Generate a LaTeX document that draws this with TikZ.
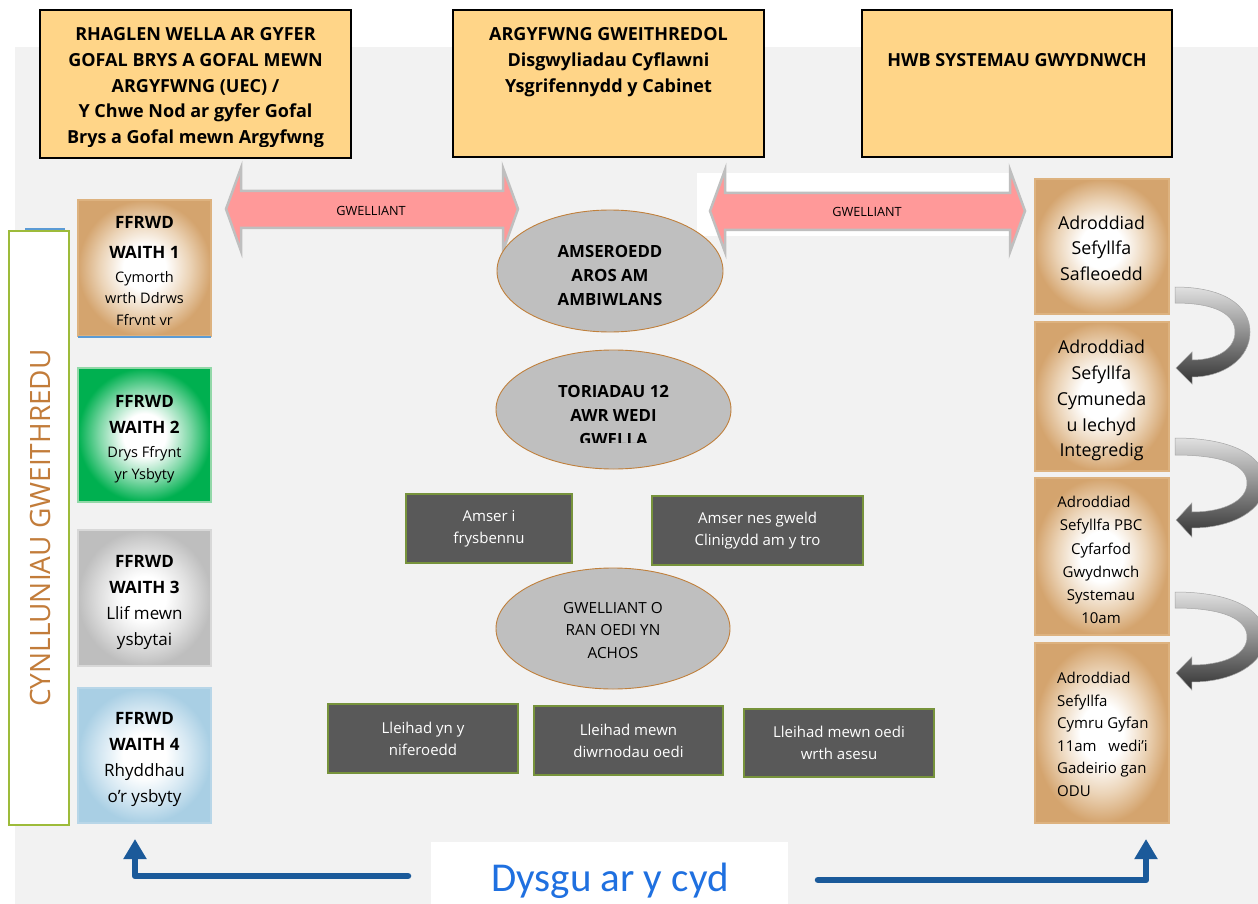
\documentclass[tikz,border=0pt]{standalone}
\usepackage{fontspec}
\setmainfont{Open Sans}
\newfontfamily\condfont{Carlito}
\usetikzlibrary{arrows.meta,shapes.geometric}
\definecolor{bgc}{HTML}{F2F2F2}
\definecolor{topfill}{HTML}{FFD588}
\definecolor{darkfill}{HTML}{595959}
\definecolor{olive}{HTML}{77933C}
\definecolor{ellfill}{HTML}{BFBFBF}
\definecolor{ellline}{HTML}{C0803C}
\definecolor{vtext}{HTML}{C27C3A}
\definecolor{vline}{HTML}{9DBB3A}
\definecolor{tanout}{HTML}{D4A46E}
\definecolor{tanmid}{HTML}{EBD3B6}
\definecolor{tanline}{HTML}{DDB27F}
\definecolor{grnout}{HTML}{00B050}
\definecolor{grnmid}{HTML}{80D8A8}
\definecolor{grnline}{HTML}{92D8A8}
\definecolor{greyout}{HTML}{BEBEBE}
\definecolor{greymid}{HTML}{DFDFDF}
\definecolor{greyline}{HTML}{D8D8D8}
\definecolor{bluout}{HTML}{A9CFE4}
\definecolor{blumid}{HTML}{D4E7F2}
\definecolor{bluline}{HTML}{B8D6E8}
\definecolor{arrblue}{HTML}{1B5A9A}
\definecolor{dysgu}{HTML}{1F70E0}
\definecolor{pinkarr}{HTML}{FF9999}
\definecolor{thinblue}{HTML}{5B9BD5}
\pgfdeclareradialshading{tanshade}{\pgfpoint{0bp}{0bp}}{color(0bp)=(white); color(8bp)=(white); color(17bp)=(tanmid); color(25bp)=(tanout); color(50bp)=(tanout)}
\pgfdeclareradialshading{grnshade}{\pgfpoint{0bp}{0bp}}{color(0bp)=(white); color(8bp)=(white); color(17bp)=(grnmid); color(25bp)=(grnout); color(50bp)=(grnout)}
\pgfdeclareradialshading{greyshade}{\pgfpoint{0bp}{0bp}}{color(0bp)=(white); color(8bp)=(white); color(17bp)=(greymid); color(25bp)=(greyout); color(50bp)=(greyout)}
\pgfdeclareradialshading{blushade}{\pgfpoint{0bp}{0bp}}{color(0bp)=(white); color(8bp)=(white); color(17bp)=(blumid); color(25bp)=(bluout); color(50bp)=(bluout)}
\begin{document}
\begin{tikzpicture}[x=1pt,y=-1pt,
  topbox/.style={draw=black,line width=1.8pt,fill=topfill,inner sep=0pt},
  toptext/.style={inner sep=0pt,align=center,font=\fontsize{18}{25.7}\selectfont\bfseries},
  flowbox/.style={line width=2pt,inner sep=0pt,minimum width=133pt},
  flowtext/.style={inner sep=0pt,align=center,anchor=north},
  darkbox/.style={draw=olive,line width=2.2pt,fill=darkfill,inner sep=0pt,text=white,align=center,font=\fontsize{15}{22}\selectfont},
  ellbox/.style={ellipse,draw=ellline,line width=0.9pt,fill=ellfill,inner sep=0pt},
  elltext/.style={inner sep=0pt,align=center,font=\fontsize{16.8}{24}\selectfont\bfseries},
  gwell/.style={fill=pinkarr,draw=black!25,line width=2.5pt,line join=miter},
  gwtext/.style={inner sep=0pt,font=\fontsize{12.7}{14}\selectfont},
  curarr/.style={top color=black!12,bottom color=black!80,draw=black!35,line width=0.5pt},
  bluearrow/.style={draw=arrblue,line width=6.5pt,line cap=round,line join=round,-{Triangle[width=22pt,length=20pt]}}
]
\clip (0,0) rectangle (1258,904);
\fill[white] (0,0) rectangle (1258,904);
\fill[bgc] (15,47) rectangle (1258,904);

% top boxes
\node[topbox,minimum width=311pt,minimum height=148pt] (t1) at (195.5,84) {};
\begin{scope}
\clip (40,10) rectangle (351,147);
\node[toptext,anchor=north] (t1txt) at (195.5,27.5) {RHAGLEN WELLA AR GYFER\\GOFAL BRYS A GOFAL MEWN\\ARGYFWNG (UEC) /\\Y Chwe Nod ar gyfer Gofal\\Brys a Gofal mewn Argyfwng};
\end{scope}
\node[topbox,minimum width=311pt,minimum height=147pt] (t2) at (608.5,83.5) {};
\node[toptext,anchor=north] (t2txt) at (608.5,27.5) {ARGYFWNG GWEITHREDOL\\Disgwyliadau Cyflawni\\Ysgrifennydd y Cabinet};
\node[topbox,minimum width=310pt,minimum height=147pt] (t3) at (1017,83.5) {};
\node[toptext,anchor=north] (t3txt) at (1017,53.5) {HWB SYSTEMAU GWYDNWCH};

% white patch behind right arrow
\fill[white] (697,173) rectangle (1010,236);

% GWELLIANT double arrows
\draw[gwell] (226,209) -- (241,168) -- (241,191) -- (503,191) -- (503,168) -- (518,209) -- (503,251) -- (503,228) -- (241,228) -- (241,251) -- cycle;
\node[gwtext] (g1) at (371,211) {GWELLIANT};
\draw[gwell] (710,211) -- (725,170) -- (725,193) -- (1010,193) -- (1010,170) -- (1025,211) -- (1010,252) -- (1010,230) -- (725,230) -- (725,252) -- cycle;
\node[gwtext] (g2) at (867,212) {GWELLIANT};

% left vertical box
\draw[thinblue,line width=1.5pt] (25,229) -- (65,229);
\node[draw=vline,fill=white,line width=2.5pt,minimum width=60pt,minimum height=594pt,inner sep=0pt] (plan) at (39,528) {};
\node[rotate=90,text=vtext,inner sep=0pt,font=\fontsize{28}{30}\selectfont] (plantxt) at (40,528) {CYNLLUNIAU GWEITHREDU};

% FFRWD boxes
\node[flowbox,draw=tanline,shading=tanshade,minimum height=136pt] (f1) at (144.5,268) {};
\draw[thinblue,line width=1.5pt] (78,337) -- (211,337);
\begin{scope}
\clip (78,200) rectangle (211,324.5);
\node[flowtext,font=\fontsize{14.5}{22}\selectfont] (f1txt) at (144.5,216) {{\fontsize{17}{22}\selectfont\bfseries FFRWD}\\[8pt]{\fontsize{17}{22}\selectfont\bfseries WAITH 1}\\[2pt]Cymorth\\[-1pt]wrth Ddrws\\Ffrynt yr};
\end{scope}
\node[flowbox,draw=grnline,shading=grnshade,minimum height=134pt] (f2) at (144.5,435) {};
\node[flowtext,font=\fontsize{14.5}{22}\selectfont] (f2txt) at (144.5,395) {{\fontsize{17}{22}\selectfont\bfseries FFRWD}\\[4pt]{\fontsize{17}{22}\selectfont\bfseries WAITH 2}\\[2pt]Drys Ffrynt\\yr Ysbyty};
\node[flowbox,draw=greyline,shading=greyshade,minimum height=136pt] (f3) at (144.5,598) {};
\node[flowtext,font=\fontsize{17}{26}\selectfont] (f3txt) at (144.5,555) {\textbf{FFRWD}\\\textbf{WAITH 3}\\Llif mewn\\ysbytai};
\node[flowbox,draw=bluline,shading=blushade,minimum height=135pt] (f4) at (144.5,755.5) {};
\node[flowtext,font=\fontsize{17}{26}\selectfont] (f4txt) at (144.5,712) {\textbf{FFRWD}\\\textbf{WAITH 4}\\Rhyddhau\\o'r ysbyty};

% ellipses
\node[ellbox,minimum width=226pt,minimum height=122pt] (e1) at (610,271) {};
\begin{scope}
\clip (497,210) rectangle (723,306);
\node[elltext,anchor=north] (e1txt) at (610,245) {AMSEROEDD\\AROS AM\\AMBIWLANS};
\end{scope}
\node[ellbox,minimum width=235pt,minimum height=119pt] (e2) at (613.5,409.5) {};
\begin{scope}
\clip (496,350) rectangle (731,442);
\node[elltext,anchor=north] (e2txt) at (613.5,385) {TORIADAU 12\\AWR WEDI\\GWELLA};
\end{scope}
\node[ellbox,minimum width=234pt,minimum height=121pt] (e3) at (613,628.5) {};
\node[inner sep=0pt,align=center,font=\fontsize{15.3}{22.5}\selectfont] (e3txt) at (613,630.5) {GWELLIANT O\\RAN OEDI YN\\ACHOS};

% dark boxes
\node[darkbox,minimum width=166pt,minimum height=69pt] (d1) at (489,528.5) {Amser i\\frysbennu};
\node[darkbox,minimum width=211pt,minimum height=69pt] (d2) at (757.5,530.5) {Amser nes gweld\\Clinigydd am y tro};
\node[darkbox,minimum width=190pt,minimum height=69pt] (d3) at (423,738.5) {Lleihad yn y\\niferoedd};
\node[darkbox,minimum width=189pt,minimum height=69pt] (d4) at (628.5,740.5) {Lleihad mewn\\diwrnodau oedi};
\node[darkbox,minimum width=190pt,minimum height=68pt] (d5) at (839,743) {Lleihad mewn oedi\\wrth asesu};

% right report boxes
\node[flowbox,draw=tanline,shading=tanshade,minimum width=134pt,minimum height=135pt] (r1) at (1101.5,246.5) {};
\node[inner sep=0pt,align=center,font=\fontsize{17.8}{25.5}\selectfont] (r1txt) at (1101.5,248) {Adroddiad\\Sefyllfa\\Safleoedd};
\node[flowbox,draw=tanline,shading=tanshade,minimum width=134pt,minimum height=149pt] (r2) at (1101.5,396.5) {};
\begin{scope}
\clip (1035,322) rectangle (1168,460);
\node[inner sep=0pt,align=center,anchor=north,font=\fontsize{17.8}{25.8}\selectfont] (r2txt) at (1101.5,340) {Adroddiad\\Sefyllfa\\Cymuneda\\u Iechyd\\Integredig};
\end{scope}
\node[flowbox,draw=tanline,shading=tanshade,minimum width=134pt,minimum height=157pt] (r3) at (1101.5,556.5) {};
\node[inner sep=0pt,align=center,anchor=north,font=\fontsize{15}{23.2}\selectfont] (r3txt) at (1101,496) {Adroddiad\hspace*{14pt}\\Sefyllfa PBC\\Cyfarfod\\Gwydnwch\\Systemau\\10am};
\node[flowbox,draw=tanline,shading=tanshade,minimum width=134pt,minimum height=180pt] (r4) at (1101.5,733) {};
\node[inner sep=0pt,align=left,anchor=north west,font=\fontsize{15}{22.5}\selectfont] (r4txt) at (1057,672) {Adroddiad\\Sefyllfa\\Cymru Gyfan\\11am~~ wedi'i\\Gadeirio gan\\ODU};

% curved grey arrows
\begin{scope}[shift={(1175,287)}]
\draw[curarr] (0,0) .. controls (48,0) and (75,18) .. (75,45) .. controls (75,72) and (48,90) .. (17,90) -- (17,97) -- (1,81) -- (17,65) -- (17,73) .. controls (42,73) and (60,62) .. (60,45) .. controls (60,28) and (42,16) .. (0,16) -- cycle;
\end{scope}
\begin{scope}[shift={(1175,438)},xscale=1.2]
\draw[curarr] (0,0) .. controls (48,0) and (75,18) .. (75,45) .. controls (75,72) and (48,90) .. (14,90) -- (14,99) -- (1,82) -- (14,65) -- (14,74) .. controls (42,74) and (60,62) .. (60,45) .. controls (60,28) and (42,17) .. (0,17) -- cycle;
\end{scope}
\begin{scope}[shift={(1175,592)},xscale=1.2]
\draw[curarr] (0,0) .. controls (48,0) and (75,18) .. (75,45) .. controls (75,72) and (48,90) .. (14,90) -- (14,98) -- (1,81) -- (14,65) -- (14,73) .. controls (42,73) and (60,62) .. (60,45) .. controls (60,28) and (42,16) .. (0,16) -- cycle;
\end{scope}

% bottom
\node[fill=white,minimum width=357pt,minimum height=64pt,inner sep=0pt] (dy) at (609.5,874) {};
\node[inner sep=0pt,text=dysgu,font=\condfont\fontsize{41}{44}\selectfont] (dytxt) at (610,881) {Dysgu ar y cyd};
\coordinate (la) at (408,876);
\coordinate (lb) at (135,839);
\coordinate (ra) at (818,880);
\coordinate (rb) at (1146,839);
\draw[bluearrow] (la) -| (lb);
\draw[bluearrow] (ra) -| (rb);
\end{tikzpicture}
\end{document}
